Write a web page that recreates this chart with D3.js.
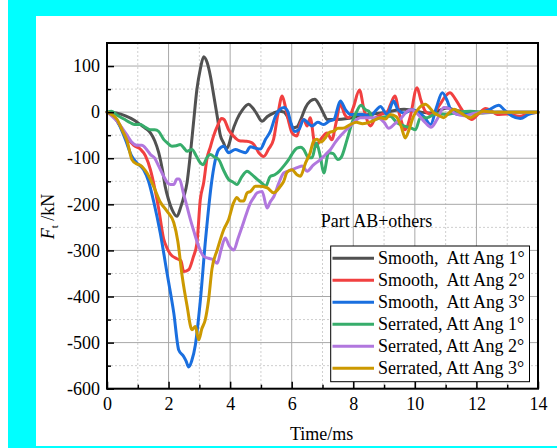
<!DOCTYPE html>
<html>
<head>
<meta charset="utf-8">
<script src="https://cdn.jsdelivr.net/npm/d3@7"></script>
<style>
  html, body { margin: 0; padding: 0; background: #fff; }
  svg { display: block; }
  text { font-family: "Liberation Serif", "Times New Roman", serif; fill: #000; }
</style>
</head>
<body>
<svg id="chart" width="557" height="448"></svg>
<script>
// ---------- data ----------
const seriesNames = ["Smooth,  Att Ang 1°", "Smooth,  Att Ang 2°", "Smooth,  Att Ang 3°",
                     "Serrated, Att Ang 1°", "Serrated, Att Ang 2°", "Serrated, Att Ang 3°"];
const seriesColors = ["#515151", "#F14040", "#1A6FDF", "#37AD6B", "#B177DE", "#CC9900"];

const timeS1 = [0,0.3,0.6,0.9,1.08,1.25,1.41,1.55,1.68,1.8,1.89,2.0,2.11,2.27,2.4,2.5,2.6,2.7,2.81,2.92,3.03,3.14,3.25,3.36,3.47,3.58,3.68,3.79,3.88,3.97,4.06,4.22,4.4,4.6,4.72,4.85,5.04,5.2,5.41,5.6,5.75,5.9,6.05,6.17,6.3,6.45,6.6,6.75,6.9,7.05,7.15,7.47,7.8,8.1,8.5,8.9,9.3,9.65,9.9,10.2,10.5,10.72,11.05,11.3,11.7,12.2,12.7,13.2,14];
const forceS1 = [0,-2,-8,-18,-27,-35,-45,-62,-88,-125,-161,-190,-211,-226,-205,-183,-153,-96,-23,49,93,120,108,78,35,-9,-50,-67,-80,-68,-45,-16,5,17,10,-2,-20,-10,-2,2,0,-15,-34,-32,-15,10,24,28,15,-5,-16,-16,-14,-10,-5,-2,3,6,4,0,-2,2,9,4,0,-2,0,0,0];

const timeS2 = [0,0.2,0.43,0.65,0.87,1.08,1.25,1.41,1.55,1.68,1.84,1.95,2.06,2.27,2.4,2.49,2.65,2.8,2.92,3.03,3.14,3.25,3.36,3.46,3.6,3.72,3.8,3.95,4.11,4.3,4.5,4.66,4.77,4.93,5.09,5.25,5.41,5.55,5.69,5.8,5.9,6.01,6.17,6.28,6.39,6.5,6.6,6.77,6.93,7.15,7.3,7.45,7.58,7.72,7.85,8.0,8.2,8.35,8.56,8.7,8.9,9.1,9.2,9.35,9.5,9.69,9.85,10.07,10.2,10.34,10.55,10.8,11.0,11.14,11.3,11.5,11.7,11.85,12.05,12.3,12.5,12.67,13.0,13.4,13.7,14];
const forceS2 = [0,-8,-30,-55,-72,-80,-95,-125,-165,-210,-275,-295,-308,-318,-322,-346,-342,-315,-285,-190,-153,-100,-75,-52,-28,-14,-16,-38,-52,-62,-63,-65,-70,-88,-96,-80,-59,-5,35,10,-20,-45,-52,-25,-16,-30,-12,-75,-60,-45,-60,-20,18,-5,-12,10,48,5,-30,-15,-5,0,15,35,-5,-38,-10,53,25,2,-5,15,35,42,30,8,-10,-16,-5,8,2,-5,-4,-9,-3,0];

const timeS3 = [0,0.2,0.4,0.6,0.8,0.97,1.19,1.35,1.52,1.73,1.95,2.17,2.33,2.49,2.57,2.65,2.75,2.87,3.03,3.2,3.41,3.55,3.63,3.79,3.95,4.17,4.35,4.5,4.66,4.82,4.98,5.15,5.31,5.47,5.6,5.75,5.88,5.96,6.1,6.23,6.39,6.55,6.66,6.85,7.04,7.2,7.37,7.58,7.75,7.9,8.1,8.3,8.56,8.75,8.88,9.1,9.31,9.45,9.65,9.9,10.1,10.3,10.51,10.7,10.89,11.05,11.16,11.4,11.7,12.0,12.4,12.73,12.9,13.15,13.43,13.7,14];
const forceS3 = [0,-8,-28,-60,-95,-110,-125,-150,-195,-262,-349,-436,-516,-530,-540,-553,-540,-505,-410,-277,-146,-95,-81,-74,-88,-81,-85,-88,-75,-78,-80,-59,-41,-9,5,10,0,-20,-42,-38,-16,-25,-30,-22,-27,-20,-16,24,5,-5,-5,-5,-9,5,12,-5,24,5,-2,5,0,-10,-27,10,42,25,6,-5,-5,-2,5,15,5,-8,-14,-5,0];

const timeS4 = [0,0.15,0.33,0.55,0.76,0.9,1.08,1.25,1.41,1.55,1.68,1.84,1.95,2.11,2.25,2.38,2.5,2.6,2.76,2.9,3.03,3.12,3.25,3.36,3.5,3.63,3.78,3.95,4.1,4.22,4.38,4.55,4.7,4.88,5.05,5.15,5.3,5.45,5.6,5.74,5.9,6.0,6.17,6.3,6.39,6.55,6.66,6.8,6.93,7.04,7.2,7.35,7.5,7.6,7.8,7.96,8.1,8.25,8.4,8.5,8.66,8.9,9.2,9.42,9.64,9.86,10.02,10.18,10.4,10.7,11.0,11.4,11.8,12.3,14];
const forceS4 = [0,2,-7,-15,-23,-27,-27,-33,-38,-38,-42,-59,-66,-74,-73,-70,-78,-85,-81,-95,-110,-114,-98,-92,-98,-103,-125,-146,-152,-157,-140,-128,-135,-146,-155,-161,-140,-136,-128,-117,-103,-92,-78,-76,-81,-99,-99,-67,-96,-132,-88,-90,-103,-99,-59,-23,0,15,5,2,-16,-12,-9,-23,-30,-34,-38,-12,-12,-3,-5,0,2,0,0];

const timeS5 = [0,0.15,0.33,0.5,0.65,0.8,0.97,1.13,1.3,1.41,1.55,1.68,1.84,1.95,2.06,2.17,2.27,2.35,2.49,2.6,2.71,2.82,2.92,3.03,3.14,3.3,3.45,3.58,3.7,3.84,3.97,4.12,4.25,4.39,4.52,4.66,4.77,4.88,5.04,5.2,5.3,5.42,5.58,5.74,6.01,6.2,6.34,6.5,6.7,6.93,7.1,7.26,7.42,7.58,7.75,7.9,8.05,8.23,8.5,8.8,9.0,9.15,9.35,9.53,9.75,9.9,10.1,10.34,10.52,10.72,10.94,11.1,11.3,11.6,11.9,12.3,14];
const forceS5 = [0,-8,-20,-35,-50,-65,-72,-72,-82,-92,-100,-117,-139,-152,-157,-157,-145,-145,-178,-205,-233,-258,-280,-300,-313,-317,-320,-328,-300,-273,-290,-299,-275,-248,-222,-197,-185,-175,-172,-208,-195,-183,-154,-132,-125,-120,-117,-128,-115,-103,-92,-81,-65,-52,-40,-30,-20,-12,-12,-12,-22,-35,-25,-15,2,5,-5,-23,-33,-16,10,8,-3,-8,-3,0,0];

const timeS6 = [0,0.15,0.33,0.5,0.65,0.81,0.95,1.08,1.3,1.52,1.73,1.95,2.17,2.3,2.44,2.6,2.76,2.87,2.98,3.08,3.19,3.3,3.41,3.58,3.79,3.95,4.11,4.22,4.33,4.44,4.55,4.66,4.82,4.93,5.2,5.41,5.63,5.74,5.85,6.01,6.17,6.28,6.45,6.6,6.71,6.82,6.95,7.1,7.2,7.37,7.5,7.65,7.9,8.1,8.3,8.6,8.88,9.05,9.2,9.4,9.55,9.69,9.8,9.95,10.15,10.34,10.5,10.61,10.8,10.94,11.1,11.27,11.5,11.8,12.0,12.24,12.6,14];
const forceS6 = [0,-5,-16,-40,-62,-103,-112,-115,-132,-162,-195,-215,-240,-280,-355,-420,-472,-465,-494,-470,-451,-407,-340,-299,-255,-233,-197,-185,-193,-193,-175,-172,-161,-161,-164,-175,-161,-150,-130,-125,-136,-139,-110,-88,-63,-59,-65,-55,-45,-41,-35,-35,-27,-22,-25,-20,-12,-15,-5,-10,-30,-56,-40,-10,10,17,8,-1,-8,-12,-2,6,-2,-12,-5,2,0,0];

const seriesTimes = [timeS1, timeS2, timeS3, timeS4, timeS5, timeS6];
const seriesForces = [forceS1, forceS2, forceS3, forceS4, forceS5, forceS6];

const xMajorTicks = [0, 2, 4, 6, 8, 10, 12, 14];
const xMinorTicks = [1, 3, 5, 7, 9, 11, 13];
const yMajorTicks = [-600, -500, -400, -300, -200, -100, 0, 100];
const yMinorTicks = [-550, -450, -350, -250, -150, -50, 50];

// ---------- layout ----------
const svg = d3.select("#chart");
const W = 557, H = 448;
const plot = { left: 107, right: 538, top: 43, bottom: 388.7 };
const serif = "'Liberation Serif', 'Times New Roman', serif";

// background frame (cyan)
svg.append("rect").attr("x", 0).attr("y", 0).attr("width", W).attr("height", H).attr("fill", "#00FFFF");
svg.append("rect").attr("x", 0).attr("y", 0).attr("width", 8).attr("height", H).attr("fill", "#ffffff");
svg.append("rect").attr("x", 36).attr("y", 16).attr("width", W - 36).attr("height", 430).attr("fill", "#ffffff");

const x = d3.scaleLinear().domain([0, 14]).range([plot.left, plot.right]);
const y = d3.scaleLinear().domain([-600, 150]).range([plot.bottom, plot.top]);

// grid
const grid = svg.append("g");
grid.selectAll(".xminor").data(xMinorTicks).join("line")
  .attr("x1", d => x(d)).attr("x2", d => x(d)).attr("y1", plot.top).attr("y2", plot.bottom)
  .attr("stroke", "#cfcfcf").attr("stroke-width", 1).attr("stroke-dasharray", "2,2");
grid.selectAll(".yminor").data(yMinorTicks).join("line")
  .attr("y1", d => y(d)).attr("y2", d => y(d)).attr("x1", plot.left).attr("x2", plot.right)
  .attr("stroke", "#cfcfcf").attr("stroke-width", 1).attr("stroke-dasharray", "2,2");
grid.selectAll(".xmajor").data(xMajorTicks.slice(1, -1)).join("line")
  .attr("x1", d => x(d)).attr("x2", d => x(d)).attr("y1", plot.top).attr("y2", plot.bottom)
  .attr("stroke", "#a8a8a8").attr("stroke-width", 1);
grid.selectAll(".ymajor").data(yMajorTicks.slice(1)).join("line")
  .attr("y1", d => y(d)).attr("y2", d => y(d)).attr("x1", plot.left).attr("x2", plot.right)
  .attr("stroke", "#a8a8a8").attr("stroke-width", 1);

// curves
const line = d3.line().x(d => x(d[0])).y(d => y(d[1])).curve(d3.curveMonotoneX);
seriesTimes.forEach((ts, i) => {
  const pts = ts.map((t, j) => [t, seriesForces[i][j]]);
  svg.append("path").datum(pts).attr("d", line)
    .attr("fill", "none").attr("stroke", seriesColors[i]).attr("stroke-width", 3)
    .attr("stroke-linejoin", "round").attr("stroke-linecap", "round");
});

// axes
const fontSize = 18;
const fmt = d => String(d);
svg.append("g").attr("transform", `translate(0,${plot.bottom})`)
  .call(d3.axisBottom(x).tickValues(xMajorTicks).tickSize(-7).tickPadding(9).tickFormat(fmt));
svg.append("g").attr("transform", `translate(0,${plot.bottom})`)
  .call(d3.axisBottom(x).tickValues(xMinorTicks).tickSize(-4).tickFormat(""));
svg.append("g").attr("transform", `translate(${plot.left},0)`)
  .call(d3.axisLeft(y).tickValues(yMajorTicks).tickSize(-7).tickPadding(7).tickFormat(fmt));
svg.append("g").attr("transform", `translate(${plot.left},0)`)
  .call(d3.axisLeft(y).tickValues(yMinorTicks).tickSize(-4).tickFormat(""));
svg.selectAll(".domain").remove();
svg.selectAll("g[font-family]").attr("font-family", serif).attr("font-size", fontSize);
svg.selectAll(".tick line").attr("stroke", "#000").attr("stroke-width", 1.5);
svg.selectAll(".tick text").style("font-family", serif).attr("font-size", fontSize).attr("fill", "#000");

// frame
svg.append("rect").attr("x", plot.left).attr("y", plot.top)
  .attr("width", plot.right - plot.left).attr("height", plot.bottom - plot.top)
  .attr("fill", "none").attr("stroke", "#000").attr("stroke-width", 2);

// axis titles
svg.append("text").attr("x", 321.7).attr("y", 440).attr("text-anchor", "middle")
  .attr("font-size", fontSize).text("Time/ms");
const yt = svg.append("text").attr("transform", "translate(54,216.5) rotate(-90)")
  .attr("text-anchor", "middle").attr("font-size", fontSize);
yt.append("tspan").attr("font-style", "italic").text("F");
yt.append("tspan").attr("font-size", 11).attr("dy", 4).text("t");
yt.append("tspan").attr("dy", -4).style("white-space", "pre").text(" /kN");

// annotation
svg.append("text").attr("x", 320.7).attr("y", 227.3).attr("font-size", fontSize).text("Part AB+others");

// legend
const lg = svg.append("g");
lg.append("rect").attr("x", 330.7).attr("y", 246).attr("width", 198.8).attr("height", 135.7)
  .attr("fill", "#fff").attr("stroke", "#000").attr("stroke-width", 1);
seriesNames.forEach((name, i) => {
  const cy = 258.3 + i * 22;
  lg.append("line").attr("x1", 332.5).attr("x2", 374).attr("y1", cy).attr("y2", cy)
    .attr("stroke", seriesColors[i]).attr("stroke-width", 3);
  lg.append("text").attr("x", 378).attr("y", cy + 6).attr("font-size", fontSize)
    .style("white-space", "pre").text(name);
});
</script>
</body>
</html>
